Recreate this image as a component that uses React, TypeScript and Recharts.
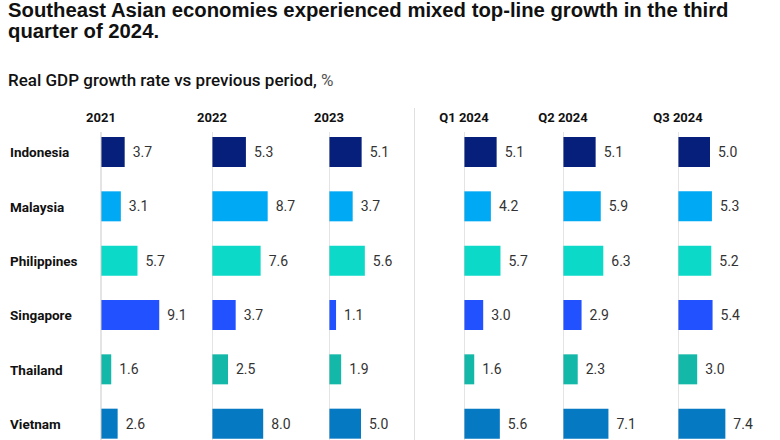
import React from "react";
import {
  BarChart,
  Bar,
  XAxis,
  YAxis,
  Cell,
  LabelList,
  ReferenceLine,
} from "recharts";

// 国・期間・値
const countries = ["Indonesia", "Malaysia", "Philippines", "Singapore", "Thailand", "Vietnam"];
const periods = ["2021", "2022", "2023", "Q1 2024", "Q2 2024", "Q3 2024"];

const y2021 = [3.7, 3.1, 5.7, 9.1, 1.6, 2.6];
const y2022 = [5.3, 8.7, 7.6, 3.7, 2.5, 8.0];
const y2023 = [5.1, 3.7, 5.6, 1.1, 1.9, 5.0];
const q1_2024 = [5.1, 4.2, 5.7, 3.0, 1.6, 5.6];
const q2_2024 = [5.1, 5.9, 6.3, 2.9, 2.3, 7.1];
const q3_2024 = [5.0, 5.3, 5.2, 5.4, 3.0, 7.4];

const seriesByPeriod = [y2021, y2022, y2023, q1_2024, q2_2024, q3_2024];

const COLORS = ["#061f7a", "#00a9f4", "#0dd9c9", "#2251ff", "#14b8a8", "#0679c3"];

// レイアウト
const BASE_X = [101, 212, 329, 464, 563, 678];
const LABEL_W = 101;
const PLOT_W = 100;
const CHART_TOP = 125;
const CHART_H = 326;
const FONT = "Roboto, 'Liberation Sans', Arial, sans-serif";
const TITLE_FONT = "'Liberation Sans', Arial, sans-serif";

function CountryTick(props: any) {
  const { y, payload } = props;
  return (
    <text
      x={10}
      y={y}
      dy={5}
      textAnchor="start"
      fill="#111"
      fontSize={13.5}
      fontWeight={700}
      fontFamily={FONT}
    >
      {payload.value}
    </text>
  );
}

function AxisLine(props: any) {
  const { x1, y1, x2, y2 } = props;
  const top = Math.min(y1, y2);
  const bottom = Math.max(y1, y2);
  return <line x1={x1} x2={x2} y1={top + 7} y2={bottom} stroke="#c9c9c9" strokeWidth={1} />;
}

function PeriodChart({ index }: { index: number }) {
  const values = seriesByPeriod[index];
  const data = countries.map((c, i) => ({ country: c, value: values[i] }));
  const first = index === 0;
  const width = first ? LABEL_W + PLOT_W : PLOT_W;
  const left = first ? 0 : BASE_X[index];

  return (
    <div style={{ position: "absolute", left, top: CHART_TOP }}>
      <BarChart
        width={width}
        height={CHART_H}
        data={data}
        layout="vertical"
        margin={{ top: 0, right: 0, bottom: 0, left: 0 }}
        barSize={30}
      >
        <XAxis type="number" domain={[0, PLOT_W / 6.4]} hide />
        <YAxis
          type="category"
          dataKey="country"
          width={first ? LABEL_W : 0}
          hide={!first}
          axisLine={false}
          tickLine={false}
          tick={<CountryTick />}
          interval={0}
        />
        <ReferenceLine x={0} shape={<AxisLine />} />
        <Bar dataKey="value" isAnimationActive={false}>
          {data.map((d, i) => (
            <Cell key={d.country} fill={COLORS[i]} />
          ))}
          <LabelList
            dataKey="value"
            position="right"
            offset={8}
            formatter={(v: any) => Number(v).toFixed(1)}
            fill="#333"
            fontSize={14}
            fontFamily={FONT}
          />
        </Bar>
      </BarChart>
    </div>
  );
}

export default function App() {
  return (
    <div
      style={{
        position: "fixed",
        left: 0,
        top: 0,
        width: 780,
        height: 440,
        overflow: "hidden",
        background: "#fff",
        fontFamily: FONT,
        color: "#111",
      }}
    >
      {/* タイトル */}
      <div
        style={{
          position: "absolute",
          left: 8,
          top: 0,
          fontSize: 20.3,
          lineHeight: "21px",
          fontWeight: 700,
          fontFamily: TITLE_FONT,
          width: 770,
          whiteSpace: "nowrap",
        }}
      >
        Southeast Asian economies experienced mixed top-line growth in the third
        <br />
        quarter of 2024.
      </div>

      {/* サブタイトル */}
      <div
        style={{
          position: "absolute",
          left: 8,
          top: 70,
          fontSize: 17,
          lineHeight: "20px",
          fontWeight: 500,
        }}
      >
        Real GDP growth rate vs previous period, <span style={{ fontWeight: 400, color: "#555" }}>%</span>
      </div>

      {/* 期間見出し */}
      {periods.map((p, i) => (
        <div
          key={p}
          style={{
            position: "absolute",
            left: BASE_X[i] - 50,
            width: 100,
            top: 109.5,
            textAlign: "center",
            fontSize: 13,
            lineHeight: "16px",
            fontWeight: 700,
          }}
        >
          {p}
        </div>
      ))}

      {/* 区切り線 */}
      <div
        style={{
          position: "absolute",
          left: 414,
          top: 108,
          width: 1,
          height: 332,
          background: "#e0e0e0",
        }}
      />

      {periods.map((p, i) => (
        <PeriodChart key={p} index={i} />
      ))}
    </div>
  );
}
